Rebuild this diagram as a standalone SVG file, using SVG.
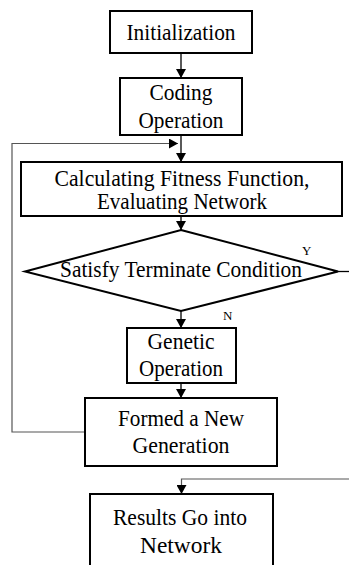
<svg xmlns="http://www.w3.org/2000/svg" width="349" height="565" viewBox="0 0 349 565">
<style>
.box{fill:#fff;stroke:#000;stroke-width:2}
.t{font-family:'Liberation Serif','DejaVu Serif',serif;font-size:23px;fill:#000;text-anchor:middle}
.s{font-family:'Liberation Serif','DejaVu Serif',serif;font-size:13px;fill:#000}
.ln{fill:none;stroke:#000;stroke-width:1.3}
.fb{fill:none;stroke:#555;stroke-width:1.2}
</style>
<defs>
<marker id="ah" markerWidth="9" markerHeight="10" refX="9" refY="5" orient="auto" markerUnits="userSpaceOnUse">
<path d="M0,0 L9,5 L0,10 Z" fill="#000"/>
</marker>
</defs>
<rect width="349" height="565" fill="#fff"/>
<g id="connectors">
<line class="ln" x1="181" y1="53" x2="181" y2="78" marker-end="url(#ah)"/>
<line class="ln" x1="181" y1="135" x2="181" y2="162" marker-end="url(#ah)"/>
<polyline class="fb" points="85,432 12,432 12,143.5 178,143.5" marker-end="url(#ah)"/>
<line class="ln" x1="181" y1="216" x2="181" y2="230" marker-end="url(#ah)"/>
<line class="ln" x1="338" y1="271.5" x2="349" y2="271.5"/>
<line class="ln" x1="181" y1="311" x2="181" y2="328" marker-end="url(#ah)"/>
<line class="ln" x1="181" y1="383" x2="181" y2="398" marker-end="url(#ah)"/>
<polyline class="fb" points="349,479 181.5,479 181.5,494" marker-end="url(#ah)"/>
<text class="s" x="302" y="255">Y</text>
<text class="s" x="223" y="320">N</text>
</g>
<g id="init">
<rect class="box" x="110" y="11" width="142" height="42"/>
<text class="t" x="181" y="40" textLength="109" lengthAdjust="spacingAndGlyphs">Initialization</text>
</g>
<g id="coding">
<rect class="box" x="120" y="78" width="122" height="57"/>
<text class="t" x="181" y="100" textLength="63" lengthAdjust="spacingAndGlyphs">Coding</text>
<text class="t" x="181" y="128" textLength="85" lengthAdjust="spacingAndGlyphs">Operation</text>
</g>
<g id="fitness">
<rect class="box" x="21" y="162" width="321" height="54"/>
<text class="t" x="182" y="186" textLength="255" lengthAdjust="spacingAndGlyphs">Calculating Fitness Function,</text>
<text class="t" x="182" y="209" textLength="170" lengthAdjust="spacingAndGlyphs">Evaluating Network</text>
</g>
<g id="condition">
<polygon points="181,230 338,271.5 181,311 25,271.5" fill="#fff" stroke="#000" stroke-width="2"/>
<text class="t" x="181" y="277" textLength="242" lengthAdjust="spacingAndGlyphs">Satisfy Terminate Condition</text>
</g>
<g id="genetic">
<rect class="box" x="127" y="328" width="109" height="55"/>
<text class="t" x="181" y="349" textLength="67" lengthAdjust="spacingAndGlyphs">Genetic</text>
<text class="t" x="181" y="376" textLength="84" lengthAdjust="spacingAndGlyphs">Operation</text>
</g>
<g id="newgen">
<rect class="box" x="85" y="398" width="192" height="68"/>
<text class="t" x="181" y="426" textLength="126" lengthAdjust="spacingAndGlyphs">Formed a New</text>
<text class="t" x="181" y="453" textLength="97" lengthAdjust="spacingAndGlyphs">Generation</text>
</g>
<g id="results">
<rect class="box" x="90" y="494" width="183" height="90"/>
<text class="t" x="180" y="525" textLength="134" lengthAdjust="spacingAndGlyphs">Results Go into</text>
<text class="t" x="181" y="553" textLength="82" lengthAdjust="spacingAndGlyphs">Network</text>
</g>
</svg>
